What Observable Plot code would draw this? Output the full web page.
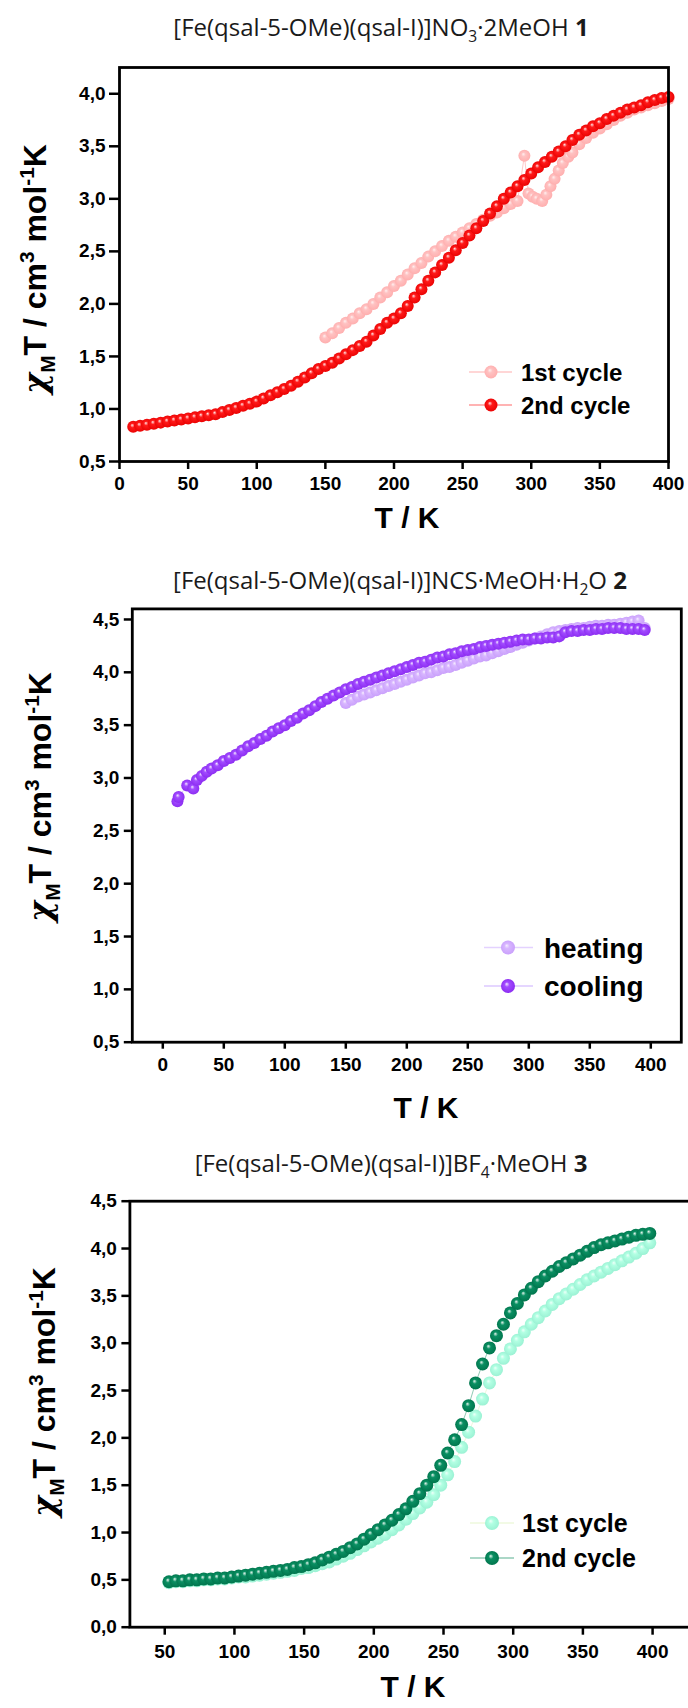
<!DOCTYPE html>
<html><head><meta charset="utf-8">
<script src="https://cdn.jsdelivr.net/npm/d3@7"></script>
<script src="https://cdn.jsdelivr.net/npm/@observablehq/plot@0.6"></script>
<style>
body{margin:0;background:#fff;}
#page{position:relative;width:688px;height:1708px;overflow:hidden;background:#fff;}
#page svg{position:absolute;left:0;overflow:visible;}
</style></head><body><div id="page"></div>
<script>
// ---------- Panel 1 : [Fe(qsal-5-OMe)(qsal-I)]NO3·2MeOH 1 ----------
const p1_T_2nd = [10,15,20,25,30,35,40,45,50,55,60,65,70,75,80,85,90,95,100,105,110,115,120,125,130,135,140,145,150,155,160,165,170,175,180,185,190,195,200,205,210,215,220,225,230,235,240,245,250,255,260,265,270,275,280,285,290,295,300,305,310,315,320,325,330,335,340,345,350,355,360,365,370,375,380,385,390,395,400];
const p1_v_2nd = [0.83,0.84,0.85,0.86,0.87,0.88,0.89,0.90,0.91,0.92,0.93,0.94,0.95,0.97,0.99,1.01,1.03,1.05,1.07,1.10,1.13,1.16,1.19,1.22,1.26,1.30,1.34,1.38,1.41,1.44,1.48,1.52,1.56,1.60,1.64,1.70,1.76,1.82,1.86,1.91,1.98,2.06,2.14,2.22,2.30,2.37,2.44,2.51,2.58,2.65,2.72,2.79,2.86,2.93,3.00,3.06,3.12,3.18,3.24,3.30,3.35,3.40,3.45,3.50,3.56,3.61,3.65,3.69,3.72,3.76,3.79,3.82,3.85,3.87,3.89,3.92,3.94,3.96,3.97];
const p1_T_1st = [150,155,160,165,170,175,180,185,190,195,200,205,210,215,220,225,230,235,240,245,250,255,260,265,270,275,280,285,290,295,298,301,304,308,311,314,317,320,323,327,330,335,340,345,350,355,360,365,370,375,380,385,390,395,400];
const p1_v_1st = [1.68,1.72,1.77,1.82,1.86,1.91,1.95,2.00,2.06,2.11,2.17,2.22,2.28,2.34,2.39,2.45,2.50,2.55,2.60,2.64,2.68,2.72,2.76,2.80,2.84,2.87,2.91,2.95,2.98,3.41,3.05,3.02,3.00,2.98,3.04,3.12,3.19,3.27,3.34,3.40,3.44,3.52,3.58,3.63,3.67,3.71,3.75,3.79,3.82,3.85,3.87,3.89,3.91,3.93,3.95];
const p1_xTicks = [0,50,100,150,200,250,300,350,400];
const p1_yTicks = [0.5,1.0,1.5,2.0,2.5,3.0,3.5,4.0];

// ---------- Panel 2 : [Fe(qsal-5-OMe)(qsal-I)]NCS·MeOH·H2O 2 ----------
const p2_T_cool = [12,13,20,25,28,32,36,40,45,50,55,60,65,70,75,80,85,90,95,100,105,110,115,120,125,130,135,140,145,150,155,160,165,170,175,180,185,190,195,200,205,210,215,220,225,230,235,240,245,250,255,260,265,270,275,280,285,290,295,300,305,310,315,320,325,330,335,340,345,350,355,360,365,370,375,380,385,390,395];
const p2_v_cool = [2.78,2.82,2.93,2.90,2.98,3.02,3.06,3.09,3.12,3.16,3.19,3.22,3.26,3.30,3.33,3.37,3.40,3.44,3.47,3.50,3.54,3.57,3.61,3.64,3.68,3.72,3.75,3.78,3.81,3.84,3.86,3.89,3.91,3.93,3.95,3.97,3.99,4.01,4.03,4.05,4.07,4.09,4.10,4.12,4.14,4.15,4.17,4.18,4.20,4.21,4.22,4.24,4.25,4.26,4.27,4.28,4.29,4.30,4.31,4.31,4.32,4.32,4.33,4.33,4.34,4.38,4.39,4.39,4.40,4.40,4.41,4.41,4.42,4.42,4.42,4.41,4.41,4.41,4.40];
const p2_T_heat = [150,155,160,165,170,175,180,185,190,195,200,205,210,215,220,225,230,235,240,245,250,255,260,265,270,275,280,285,290,295,300,305,310,315,320,325,330,335,340,345,350,355,360,365,370,375,380,385,390,395];
const p2_v_heat = [3.71,3.74,3.77,3.79,3.81,3.83,3.85,3.87,3.89,3.91,3.93,3.95,3.97,3.99,4.00,4.02,4.04,4.05,4.07,4.09,4.11,4.13,4.15,4.16,4.18,4.20,4.22,4.24,4.26,4.28,4.30,4.32,4.34,4.36,4.38,4.39,4.40,4.41,4.42,4.42,4.43,4.44,4.44,4.45,4.45,4.46,4.47,4.48,4.49,4.42];
const p2_xTicks = [0,50,100,150,200,250,300,350,400];
const p2_yTicks = [0.5,1.0,1.5,2.0,2.5,3.0,3.5,4.0,4.5];

// ---------- Panel 3 : [Fe(qsal-5-OMe)(qsal-I)]BF4·MeOH 3 ----------
const p3_T = [53,58,63,68,73,78,83,88,93,98,103,108,113,118,123,128,133,138,143,148,153,158,163,168,173,178,183,188,193,198,203,208,213,218,223,228,233,238,243,248,253,258,263,268,273,278,283,288,293,298,303,308,313,318,323,328,333,338,343,348,353,358,363,368,373,378,383,388,393,398];
const p3_v_1st = [0.47,0.48,0.48,0.49,0.49,0.50,0.50,0.51,0.51,0.52,0.53,0.53,0.54,0.55,0.56,0.57,0.58,0.59,0.60,0.62,0.63,0.65,0.67,0.69,0.72,0.75,0.78,0.82,0.86,0.90,0.94,0.98,1.03,1.08,1.14,1.20,1.26,1.32,1.40,1.50,1.61,1.75,1.90,2.06,2.23,2.41,2.58,2.72,2.84,2.94,3.03,3.12,3.20,3.27,3.34,3.41,3.47,3.52,3.57,3.62,3.67,3.71,3.75,3.79,3.83,3.87,3.91,3.95,4.00,4.06];
const p3_v_2nd = [0.48,0.49,0.49,0.50,0.50,0.51,0.51,0.52,0.52,0.53,0.54,0.55,0.56,0.57,0.58,0.59,0.60,0.61,0.63,0.64,0.66,0.68,0.71,0.74,0.77,0.80,0.84,0.88,0.93,0.98,1.03,1.08,1.13,1.19,1.25,1.33,1.41,1.50,1.59,1.71,1.84,1.98,2.14,2.34,2.58,2.78,2.95,3.08,3.20,3.32,3.42,3.51,3.58,3.65,3.71,3.76,3.81,3.85,3.89,3.93,3.97,4.01,4.04,4.06,4.08,4.10,4.12,4.14,4.15,4.16];
const p3_xTicks = [50,100,150,200,250,300,350,400];
const p3_yTicks = [0.0,0.5,1.0,1.5,2.0,2.5,3.0,3.5,4.0,4.5];

// ---------- rendering ----------
const fmtY = d => d.toFixed(1).replace(".", ",");
const SANS = "'Liberation Sans', Arial, sans-serif";
const page = d3.select("#page");

function grad(defs, id, c0, c1, c2) {
  const g = defs.append("radialGradient").attr("id", id)
    .attr("cx", 0.5).attr("cy", 0.5).attr("r", 0.55).attr("fx", 0.4).attr("fy", 0.35);
  g.append("stop").attr("offset", 0).attr("stop-color", c0);
  g.append("stop").attr("offset", 0.32).attr("stop-color", c1);
  g.append("stop").attr("offset", 1).attr("stop-color", c2);
}

function rich(sel, parts, size) {
  let shift = 0;
  for (const [t, m] of parts) {
    const ts = sel.append("tspan").text(t);
    let target = 0;
    if (m === "sub") { target = size * 0.28; ts.attr("font-size", size * 0.65); }
    if (m === "sup") { target = -size * 0.38; ts.attr("font-size", size * 0.65); }
    if (m === "b") ts.attr("font-weight", "bold");
    if (m === "i") ts.attr("font-style", "italic").attr("font-family", "'DejaVu Serif', serif");
    if (target !== shift) { ts.attr("dy", target - shift); shift = target; }
  }
}

function panel(cfg) {
  const marks = [];
  for (const s of cfg.series) {
    const data = s.T.map((t, i) => ({T: t, v: s.v[i]}));
    marks.push(Plot.line(data, {x: "T", y: "v", stroke: s.line, strokeWidth: 1}));
    marks.push(Plot.dot(data, {x: "T", y: "v", r: s.r, fill: `url(#${s.id})`, stroke: "none"}));
  }
  marks.push(Plot.axisX(cfg.xTicks, {tickSize: cfg.xTickSize, tickPadding: cfg.xPad, fontSize: 19, fontWeight: "bold", strokeWidth: 2.5, label: null}));
  marks.push(Plot.axisY(cfg.yTicks, {tickSize: cfg.yTickSize, tickPadding: cfg.yPad, tickFormat: fmtY, fontSize: 19, fontWeight: "bold", strokeWidth: 2.5, label: null}));
  marks.push(Plot.frame({stroke: "black", strokeWidth: 2.8}));

  const svgEl = Plot.plot({
    width: 688, height: cfg.height,
    marginTop: cfg.mT, marginBottom: cfg.mB, marginLeft: cfg.mL, marginRight: cfg.mR,
    x: {domain: cfg.xDomain},
    y: {domain: cfg.yDomain},
    style: {fontFamily: SANS, color: "black", background: "white", overflow: "visible"},
    marks
  });
  page.node().appendChild(svgEl);
  const svg = d3.select(svgEl).style("top", cfg.top + "px");
  const defs = svg.insert("defs", ":first-child");
  for (const s of cfg.series) grad(defs, s.id, s.g[0], s.g[1], s.g[2]);

  const top = cfg.top;
  // title
  const tt = svg.append("text").attr("x", cfg.title.x).attr("y", cfg.title.y - top + 8.5)
    .attr("text-anchor", "middle").attr("font-family", "'Open Sans', sans-serif")
    .attr("font-size", 24).attr("fill", "#1a1a1a");
  rich(tt, cfg.title.parts, 24);
  // y label
  const yl = svg.append("text")
    .attr("transform", `translate(${cfg.ylab.x + 11},${cfg.ylab.y - top}) rotate(-90)`)
    .attr("text-anchor", "middle").attr("font-family", SANS).attr("font-weight", "bold")
    .attr("font-size", 32).attr("fill", "black");
  rich(yl, [["χ", "i"], ["M", "sub"], ["T / cm", ""], ["3", "sup"], [" mol", ""], ["-1", "sup"], ["K", ""]], 32);
  // x label
  svg.append("text").attr("x", cfg.xlab.x).attr("y", cfg.xlab.y - top + 10.5)
    .attr("text-anchor", "middle").attr("font-family", SANS).attr("font-weight", "bold")
    .attr("font-size", 30).attr("fill", "black").text("T / K");
  // legend
  const L = cfg.legend;
  cfg.series.forEach((s, i) => {
    const y = L.rows[i] - top;
    svg.append("line").attr("x1", L.x1).attr("x2", L.x2).attr("y1", y).attr("y2", y)
      .attr("stroke", s.line).attr("stroke-width", 1.3);
    svg.append("circle").attr("cx", L.mx).attr("cy", y).attr("r", L.r).attr("fill", `url(#${s.id})`);
    svg.append("text").attr("x", L.tx).attr("y", y + L.size * 0.36)
      .attr("text-anchor", "start")
      .attr("font-family", SANS).attr("font-weight", "bold").attr("font-size", L.size)
      .attr("fill", "black").text(s.name);
  });
}

panel({
  top: 0, height: 540, mT: 67, mB: 79, mL: 119, mR: 20,
  xDomain: [0, 400], yDomain: [0.5, 4.25], xTicks: p1_xTicks, yTicks: p1_yTicks,
  xTickSize: 8, xPad: 6.5, yTickSize: 10, yPad: 4,
  title: {x: 381, y: 27, parts: [["[Fe(qsal-5-OMe)(qsal-I)]NO", ""], ["3", "sub"], ["·2MeOH ", ""], ["1", "b"]]},
  ylab: {x: 35, y: 269}, xlab: {x: 407, y: 517},
  legend: {rows: [372, 405], x1: 469, x2: 512, mx: 491, tx: 521, r: 6.5, size: 24},
  series: [
    {name: "1st cycle", T: p1_T_1st, v: p1_v_1st, r: 6, id: "g1a", line: "#ffc8c8", g: ["#fff0f0", "#ffc2c2", "#ffacac"]},
    {name: "2nd cycle", T: p1_T_2nd, v: p1_v_2nd, r: 6, id: "g1b", line: "#ff9a9a", g: ["#ffe6e6", "#ff1a1a", "#e80000"]}
  ]
});

panel({
  top: 540, height: 580, mT: 68.4, mB: 78.3, mL: 131.8, mR: 7.2,
  xDomain: [-25, 425], yDomain: [0.5, 4.6], xTicks: p2_xTicks, yTicks: p2_yTicks,
  xTickSize: 7, xPad: 8.5, yTickSize: 8, yPad: 5,
  title: {x: 400, y: 580, parts: [["[Fe(qsal-5-OMe)(qsal-I)]NCS·MeOH·H", ""], ["2", "sub"], ["O ", ""], ["2", "b"]]},
  ylab: {x: 40, y: 797}, xlab: {x: 426, y: 1107},
  legend: {rows: [947.5, 986], x1: 484, x2: 533, mx: 508, tx: 544, r: 7, size: 28},
  series: [
    {name: "heating", T: p2_T_heat, v: p2_v_heat, r: 6, id: "g2a", line: "#e4d2ff", g: ["#f6eeff", "#d8b6ff", "#c89efb"]},
    {name: "cooling", T: p2_T_cool, v: p2_v_cool, r: 6, id: "g2b", line: "#dcc8ff", g: ["#f3e8ff", "#a24cff", "#8a2af0"]}
  ]
});

panel({
  top: 1120, height: 588, mT: 80.7, mB: 81.3, mL: 129.4, mR: -2,
  xDomain: [25, 427.2], yDomain: [0, 4.5], xTicks: p3_xTicks, yTicks: p3_yTicks,
  xTickSize: 8, xPad: 9.5, yTickSize: 8, yPad: 5,
  title: {x: 391, y: 1163, parts: [["[Fe(qsal-5-OMe)(qsal-I)]BF", ""], ["4", "sub"], ["·MeOH ", ""], ["3", "b"]]},
  ylab: {x: 44, y: 1392}, xlab: {x: 413, y: 1686},
  legend: {rows: [1523, 1558], x1: 470, x2: 514, mx: 492, tx: 522, r: 7, size: 25},
  series: [
    {name: "1st cycle", T: p3_T, v: p3_v_1st, r: 6.5, id: "g3a", line: "#eef8dc", g: ["#effff9", "#b2ffe3", "#98f0d2"]},
    {name: "2nd cycle", T: p3_T, v: p3_v_2nd, r: 6.5, id: "g3b", line: "#8fcab4", g: ["#e6f5ee", "#0a8f62", "#00734b"]}
  ]
});
</script></body></html>
